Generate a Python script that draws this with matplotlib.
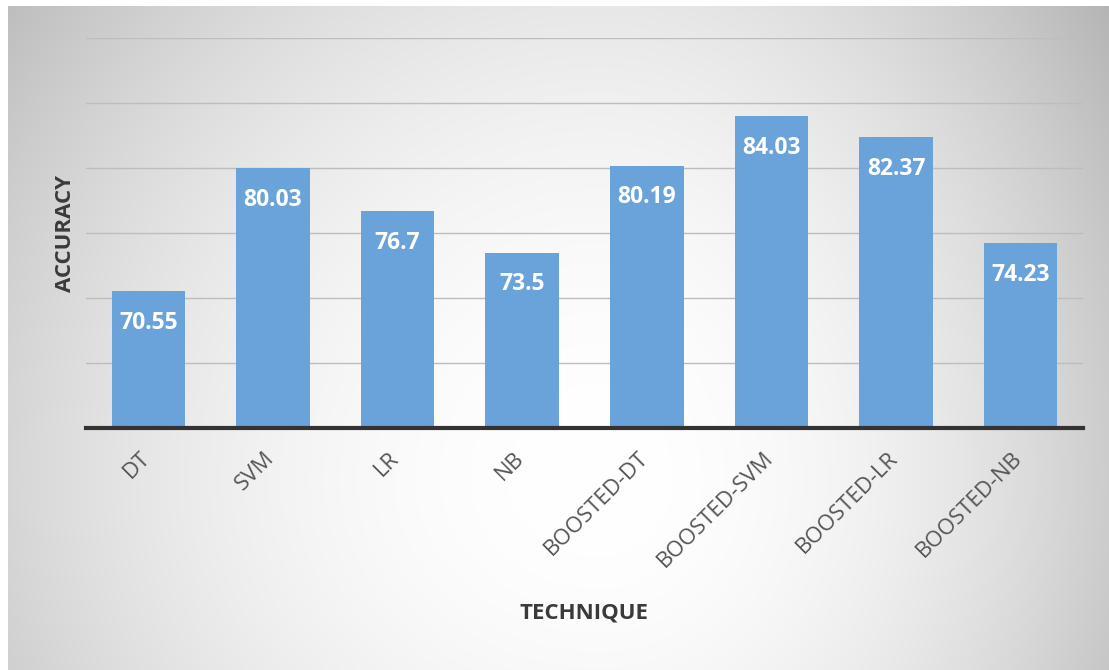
import numpy as np
import matplotlib
matplotlib.use("Agg")
import matplotlib.pyplot as plt
import matplotlib.transforms as mtrans

categories = ["DT", "SVM", "LR", "NB", "BOOSTED-DT", "BOOSTED-SVM", "BOOSTED-LR", "BOOSTED-NB"]
accuracy = [70.55, 80.03, 76.7, 73.5, 80.19, 84.03, 82.37, 74.23]
value_labels = ["70.55", "80.03", "76.7", "73.5", "80.19", "84.03", "82.37", "74.23"]
y_ticks = [60, 65, 70, 75, 80, 85, 90]

plt.rcParams['font.family'] = ['Open Sans', 'DejaVu Sans']

W, H = 1109, 670
fig = plt.figure(figsize=(W / 100, H / 100), dpi=100)

# background radial gradient
bg = fig.add_axes([0, 0, 1, 1], zorder=-10)
yy, xx = np.mgrid[0:H, 0:W]
cx, cy = 600, 480
rx = np.where(xx < cx, 720.0, 560.0)
ry = np.where(yy < cy, 760.0, 600.0)
r2 = ((xx - cx) / rx) ** 2 + ((yy - cy) / ry) ** 2
val = 1.0 - 0.24 * np.clip(r2, 0, 1.2)
img = np.dstack([val, val, val])
img[:, :8, :] = 1.0
img[:6, :, :] = 1.0
bg.imshow(img, aspect='auto', extent=[0, W, H, 0], interpolation='bilinear')
bg.axis('off')

ax = fig.add_axes([86 / W, 1 - 428 / H, (1083 - 86) / W, (428 - 38) / H])
ax.patch.set_alpha(0)
x = np.arange(len(categories))
bars = ax.bar(x, accuracy, width=0.59, color='#6aa3d9', zorder=3)
ax.set_ylim(60, 90)
ax.set_xlim(-0.5, len(categories) - 0.5)
ax.set_yticks(y_ticks)
ax.set_yticklabels([])
ax.tick_params(axis='y', length=0)
ax.grid(axis='y', color='#bdbdbd', linewidth=1.0, zorder=0)
for s in ['top', 'right', 'left']:
    ax.spines[s].set_visible(False)
ax.spines['bottom'].set_color('#333333')
ax.spines['bottom'].set_linewidth(3)
ax.spines['bottom'].set_zorder(4)

ax.set_xticks(x)
ax.set_xticklabels(categories, rotation=45, ha='right', va='top', rotation_mode='anchor',
                   fontsize=16, color='#555555')
ax.tick_params(axis='x', length=0, pad=14)
shift = mtrans.ScaledTranslation(-9 / 100, 0, fig.dpi_scale_trans)
for lbl in ax.get_xticklabels():
    lbl.set_transform(lbl.get_transform() + shift)

for xi, v, lab in zip(x, accuracy, value_labels):
    ax.annotate(lab, xy=(xi, v), xytext=(0, -23), textcoords='offset points',
                ha='center', va='center', color='white', fontsize=16.5, fontweight='bold', zorder=5)

ax.set_xlabel('TECHNIQUE', fontsize=16, fontweight='bold', color='#3a3a3a', labelpad=22)
ax.set_ylabel('ACCURACY', fontsize=16, fontweight='bold', color='#3a3a3a', labelpad=4)

fig.savefig('out.png', dpi=100)
